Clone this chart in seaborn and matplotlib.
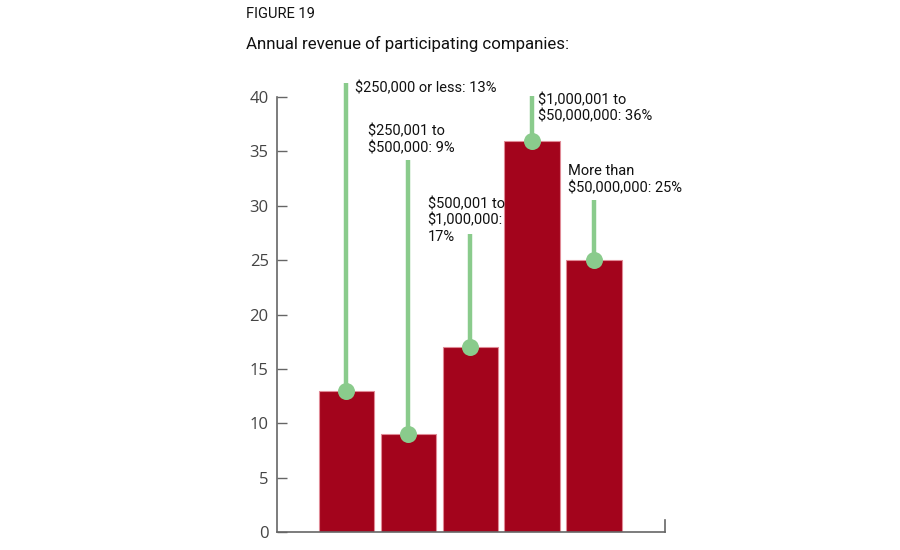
import numpy as np
import pandas as pd
import matplotlib
matplotlib.use("Agg")
import matplotlib.pyplot as plt
import seaborn as sns

# revenue bands and share of companies (%)
categories = ["$250,000 or less", "$250,001 to $500,000", "$500,001 to $1,000,000",
              "$1,000,001 to $50,000,000", "More than $50,000,000"]
shares = [13, 9, 17, 36, 25]
labels = ["$250,000 or less: 13%",
          "$250,001 to\n$500,000: 9%",
          "$500,001 to\n$1,000,000:\n17%",
          "$1,000,001 to\n$50,000,000: 36%",
          "More than\n$50,000,000: 25%"]
# top of each green leader line (in y units)
leader_tops = [41.3, 34.2, 27.4, 40.1, 30.5]
y_ticks = [0, 5, 10, 15, 20, 25, 30, 35, 40]

df = pd.DataFrame({"band": categories, "share": shares})

sns.set_style("white")
plt.rcParams["font.family"] = ["Roboto", "DejaVu Sans"]

RED = "#a3041c"
GREEN = "#8acb8c"
AXIS = "#666666"

fig = plt.figure(figsize=(9, 5.5), dpi=100)
ax = fig.add_axes([0.3078, 0.0327, 0.4311, 0.7909])

sns.barplot(data=df, x="band", y="share", color=RED, width=0.9,
            edgecolor="#e08a96", linewidth=0.8, saturation=1, ax=ax)

xs = np.arange(len(shares))
ax.vlines(xs, shares, leader_tops, color=GREEN, linewidth=3.2, zorder=3, clip_on=False)
ax.scatter(xs, shares, s=150, color=GREEN, zorder=4, clip_on=False, linewidths=0)

# label offsets relative to bar centre (x) and text top (y)
offsets = [(0.14, 41.5), (-0.65, 37.5), (-0.69, 30.8), (0.09, 40.4), (-0.42, 33.8)]
for x, lab, (dx, ty) in zip(xs, labels, offsets):
    ax.text(x + dx, ty, lab, ha="left", va="top", fontsize=10.5,
            color="#111111", linespacing=1.2, clip_on=False)

ax.set_ylim(0, 40)
ax.set_xlim(-1.12, 5.14)
ax.set_yticks(y_ticks)
ax.set_xticks([])
ax.set_xlabel("")
ax.set_ylabel("")
ax.tick_params(axis="y", direction="in", length=7, width=1, color=AXIS,
               labelsize=12, labelcolor="#444444", pad=6, left=True)
for lbl in ax.get_yticklabels():
    lbl.set_fontfamily(["Open Sans", "DejaVu Sans"])

ax.spines["top"].set_visible(False)
for side in ["left", "bottom", "right"]:
    ax.spines[side].set_color(AXIS)
    ax.spines[side].set_linewidth(1.2)
ax.spines["right"].set_bounds(0, 1.1)

fig.text(246 / 900, 1 - 14 / 550, "FIGURE 19", fontsize=10.5, color="#111111",
         ha="left", va="center")
fig.text(246 / 900, 1 - 44 / 550, "Annual revenue of participating companies:",
         fontsize=12.2, color="#111111", ha="left", va="center")

fig.savefig("out.png", dpi=100)
